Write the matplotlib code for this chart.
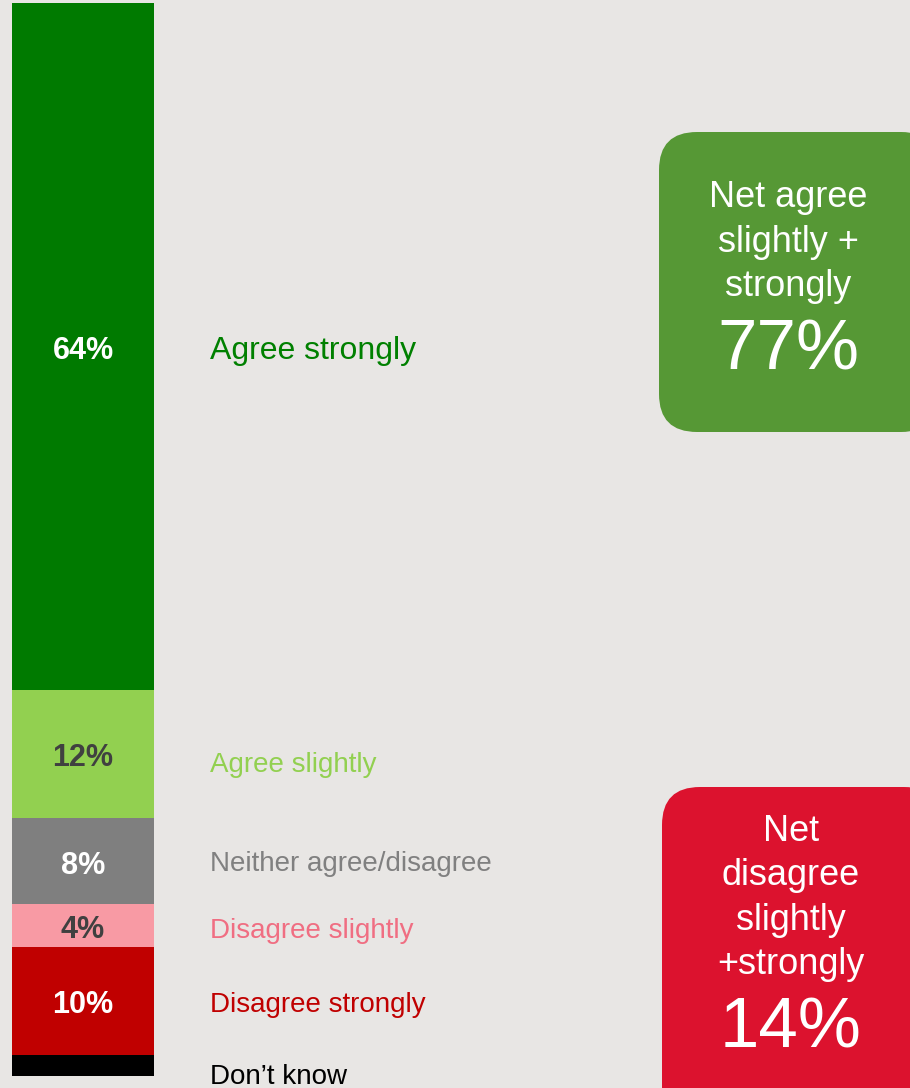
import matplotlib.pyplot as plt
from matplotlib.patches import FancyBboxPatch

plt.rcParams['font.family'] = ['Liberation Sans', 'DejaVu Sans']

# Stacked shares, bottom to top
categories = ['Don\u2019t know', 'Disagree strongly', 'Disagree slightly',
              'Neither agree/disagree', 'Agree slightly', 'Agree strongly']
values = [2, 10, 4, 8, 12, 64]
value_labels = ['', '10%', '4%', '8%', '12%', '64%']

bar_colors = ['#000000', '#C00000', '#F89AA4', '#7F7F7F', '#92D050', '#007A00']
text_colors = ['#000000', '#C00000', '#F06E82', '#808080', '#92D050', '#008000']
value_colors = ['white', 'white', '#404040', 'white', '#404040', 'white']
label_sizes = [20, 20, 20, 20, 20, 23]
label_shift = [-1.1, -0.4, -0.5, -0.2, -1.0, -0.4]

net_agree = '77%'
net_disagree = '14%'

bg = '#E8E6E4'
fig = plt.figure(figsize=(9.1, 10.88), dpi=100, facecolor=bg)

# bar axes: x in pixels, y in percent
ax = fig.add_axes([0, 0, 1, 1])
ax.set_facecolor(bg)
ax.set_xlim(0, 910)
ax.set_ylim(-12 / 10.73, 1076 / 10.73)
ax.axis('off')

bottom = 0
for cat, v, vl, bc, tc, vc, fs, sh in zip(categories, values, value_labels, bar_colors,
                                          text_colors, value_colors, label_sizes, label_shift):
    ax.bar(83, v, width=142, bottom=bottom, color=bc, linewidth=0)
    mid = bottom + v / 2
    if vl:
        ax.text(83, mid - 0.4, vl, ha='center', va='center', fontsize=22,
                fontweight='bold', color=vc)
    ax.text(210, mid + sh, cat, ha='left', va='center', fontsize=fs, color=tc)
    bottom += v

# overlay axes in pixel coordinates for the net boxes
ov = fig.add_axes([0, 0, 1, 1])
ov.set_xlim(0, 910)
ov.set_ylim(1088, 0)
ov.axis('off')
ov.patch.set_alpha(0)

green_box = FancyBboxPatch((659, 132), 280, 300,
                           boxstyle='round,pad=0,rounding_size=38',
                           facecolor='#569835', edgecolor='none')
ov.add_patch(green_box)
ov.text(788, 242, 'Net agree\nslightly +\nstrongly', ha='center', va='center',
        fontsize=26, color='white', linespacing=1.35)
ov.text(788, 352, net_agree, ha='center', va='center', fontsize=51, color='white')

red_box = FancyBboxPatch((662, 787), 280, 340,
                         boxstyle='round,pad=0,rounding_size=38',
                         facecolor='#DC122E', edgecolor='none')
ov.add_patch(red_box)
ov.text(791, 898, 'Net\ndisagree\nslightly\n+strongly', ha='center', va='center',
        fontsize=26, color='white', linespacing=1.35)
ov.text(791, 1030, net_disagree, ha='center', va='center', fontsize=51, color='white')

fig.savefig('out.png', dpi=100, facecolor=bg)
